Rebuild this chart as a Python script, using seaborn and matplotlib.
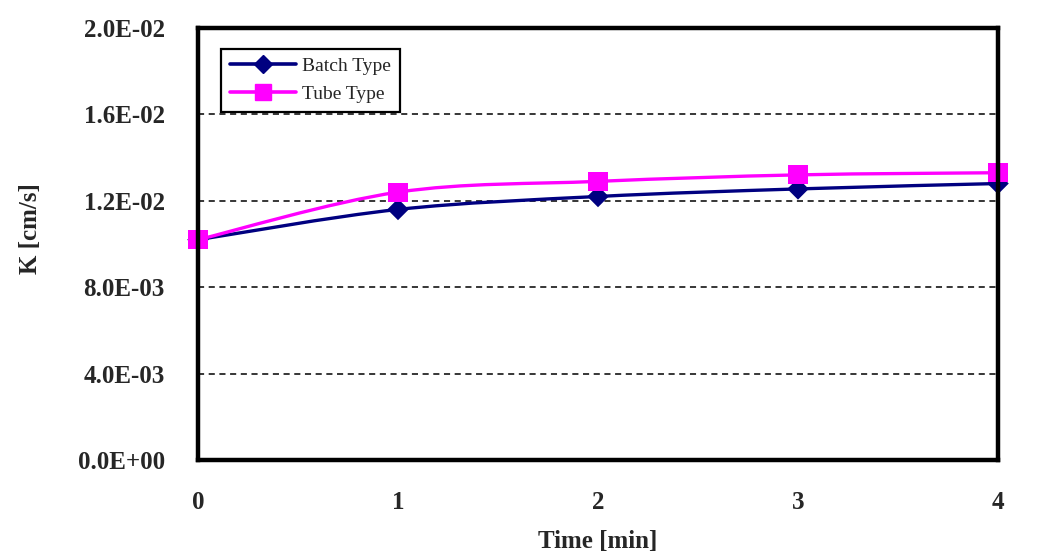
import numpy as np
import pandas as pd
import seaborn as sns
import matplotlib
matplotlib.use("Agg")
import matplotlib.pyplot as plt
from matplotlib.path import Path
from matplotlib.patches import PathPatch
from matplotlib.lines import Line2D

time_min = [0, 1, 2, 3, 4]
batch_k = [0.0102, 0.0116, 0.0122, 0.01255, 0.0128]
tube_k = [0.0102, 0.0124, 0.0129, 0.0132, 0.0133]
series_names = ["Batch Type", "Tube Type"]
colors = ["#000080", "#FF00FF"]
markers = ["D", "s"]
y_ticks = [0.0, 0.004, 0.008, 0.012, 0.016, 0.020]
y_tick_labels = ["0.0E+00", "4.0E-03", "8.0E-03", "1.2E-02", "1.6E-02", "2.0E-02"]

sns.set_style("white")
plt.rcParams["font.family"] = ["Liberation Serif", "DejaVu Serif"]

df = pd.DataFrame({
    "Time": time_min * 2,
    "K": batch_k + tube_k,
    "Series": [series_names[0]] * len(time_min) + [series_names[1]] * len(time_min),
})

fig = plt.figure(figsize=(10.47, 5.58), dpi=100)
ax = fig.add_axes([198 / 1047, 1 - 460 / 558, 800 / 1047, 432 / 558])


def smooth_path(xs, ys):
    # Catmull-Rom style Bezier smoothing (like spreadsheet "smoothed line")
    xs = np.asarray(xs, float)
    ys = np.asarray(ys, float)
    verts = [(xs[0], ys[0])]
    codes = [Path.MOVETO]
    n = len(xs)
    for i in range(n - 1):
        p0 = np.array([xs[max(i - 1, 0)], ys[max(i - 1, 0)]])
        p1 = np.array([xs[i], ys[i]])
        p2 = np.array([xs[i + 1], ys[i + 1]])
        p3 = np.array([xs[min(i + 2, n - 1)], ys[min(i + 2, n - 1)]])
        c1 = p1 + (p2 - p0) / 6.0
        c2 = p2 - (p3 - p1) / 6.0
        verts += [tuple(c1), tuple(c2), tuple(p2)]
        codes += [Path.CURVE4] * 3
    return Path(verts, codes)


for name, col in zip(series_names, colors):
    sub = df[df["Series"] == name]
    ax.add_patch(PathPatch(smooth_path(sub["Time"], sub["K"]), fill=False,
                           edgecolor=col, lw=2.4, zorder=3, capstyle="round"))

for name, col, mk, sz in zip(series_names, colors, markers, [120, 190]):
    sub = df[df["Series"] == name]
    sns.scatterplot(x=sub["Time"], y=sub["K"], color=col, marker=mk, s=sz,
                    edgecolor="none", ax=ax, zorder=4, legend=False,
                    clip_on=False)

ax.set_xlim(0, 4)
ax.set_ylim(0, 0.02)
bold = dict(fontsize=18, fontweight="bold", family="Liberation Serif")
ax.set_yticks(y_ticks)
ax.set_yticklabels(y_tick_labels, **bold)
ax.set_xticks(time_min)
ax.set_xticklabels([str(t) for t in time_min], **bold)
ax.tick_params(axis="y", length=0, pad=24)
ax.tick_params(axis="x", direction="in", length=7, width=1.2, pad=22)

for yv in y_ticks[1:-1]:
    ax.axhline(yv, color="black", ls=(0, (4, 3)), lw=1.1, zorder=1)

for sp in ax.spines.values():
    sp.set_visible(True)
    sp.set_linewidth(3.2)
    sp.set_color("black")
    sp.set_zorder(5)

ax.set_xlabel("Time [min]", fontsize=18, fontweight="bold",
              family="Liberation Serif", labelpad=12)
ax.set_ylabel("K [cm/s]", fontsize=18, fontweight="bold",
              family="Liberation Serif")
ax.yaxis.set_label_coords(-0.195, 0.535)

handles = [Line2D([0], [0], color=colors[0], lw=2.6, marker="D", markersize=9),
           Line2D([0], [0], color=colors[1], lw=2.6, marker="s", markersize=11)]
leg = ax.legend(handles, series_names, loc="upper left",
                bbox_to_anchor=(0.017, 0.975), frameon=True,
                fancybox=False, framealpha=1, edgecolor="black",
                handlelength=3.4, borderpad=0.45, labelspacing=0.55,
                handletextpad=0.3, prop={"family": "Liberation Serif", "size": 14})
leg.get_frame().set_linewidth(1.6)

fig.savefig("out.png", dpi=100)
